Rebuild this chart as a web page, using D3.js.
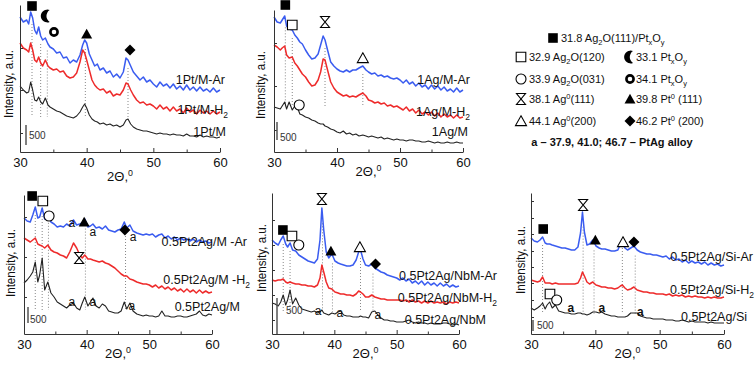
<!DOCTYPE html>
<html lang="en">
<head>
<meta charset="utf-8">
<title>XRD patterns of Pt, Ag and PtAg samples</title>
<script src="https://d3js.org/d3.v7.min.js"></script>
<style>
html, body { margin: 0; padding: 0; background: #fff; }
svg { display: block; font-family: "Liberation Sans", Arial, sans-serif; }
</style>
</head>
<body>
<script>
// 2theta grids (deg) and intensities (a.u., height above each panel's axis)
const tt1 = [30,30.5,31,31.3,31.6,31.9,32.2,32.5,32.8,33.1, 33.4,33.8,34.2,34.5,35,35.5,36,36.5,37,37.5, 38,38.5,39,39.4,39.7,40,40.4,40.8,41.2,41.6, 42,42.5,43,43.5,44,44.5,45,45.5,45.9,46.2, 46.6,47,47.5,48,48.5,49,49.5,50, 50.5,51,51.5,52,52.5,53,53.5,54,54.5,55,55.5,56,56.5,57,57.5,58,58.5,59,59.5,60];
const pt_Ar = [135,130,132,128,140,134,122,118,125,116, 112,114,108,105,103,99,100,94,95,89, 92,90,97,107,112,109,98,92,86,88, 82,84,79,81,75,78,74,80,94,92, 86,80,76,72,75,70,72,68, 65,70,66,68,64,68,63,66,62,67,62,65,61,65,61,63,60,64,60,62];
const pt_H2 = [109,104,102,100,109,102,92,90,95,89, 86,92,86,84,82,83,80,81,76,74, 75,79,90,102,99,92,82,72,67,64, 62,63,59,61,56,58,57,62,69,68, 62,57,52,49,50,47,48,46, 43,47,43,45,41,45,41,43,39,44,40,42,38,42,39,41,38,41,38,40];
const pt_M = [66,62,59,60,70,62,52,51,55,50, 48,54,47,45,43,41,40,38,36,35, 34,36,40,45,48,44,37,33,31,30, 28,29,27,28,26,27,25,27,32,33, 28,25,23,22,21,21,20,19, 18,19,18,18,17,18,17,17,16,18,16,16,15,17,15,16,15,15,14,15];

const tt2 = [30,30.5,31,31.3,31.7,32,32.4,32.9,33.3,33.7, 34.1,34.5,35,35.5,36,36.5,37,37.4,37.8,38.1, 38.5,39,39.5,40,40.5,41,41.5,42,42.5,43, 43.5,44.1,44.6,45,45.5,46,46.5,47,47.5,48, 48.5,49,49.5,50, 50.5,51,51.5,52,52.5,53,53.5,54,54.5,55,55.5,56,56.5,57,57.5,58,58.5,59,59.5,60];
const ag_Ar = [135,130,129,132,136,126,123,122,117,114, 110,108,102,97,93,94,98,107,116,112, 102,90,86,83,81,80,82,80,82,82, 84,86,82,80,78,79,76,77,75,76, 74,73,74,72, 69,72,68,70,66,69,65,67,63,67,63,66,62,65,61,63,60,64,60,62];
const ag_H2 = [107,105,102,104,106,97,94,95,89,86, 82,78,75,70,66,67,72,80,93,92, 82,70,64,60,58,56,57,55,56,55, 57,59,56,52,51,49,50,48,49,46, 47,45,46,44, 42,45,41,43,39,42,38,40,37,40,36,39,35,38,35,37,34,37,34,35];
const ag_M = [45,44,43,46,50,43,50,42,46,45, 38,37,35,34,32,31,29,28,28,26, 25,23,22,20,19,21,18,19,17,18, 16,17,16,15,16,15,14,15,13,14, 13,12,13,12, 12,11,12,12,11,11,10,10,11,10,9,10,9,9,10,9,9,10,9,9];

const tt3 = [30,30.5,31,31.4,31.8,32.2,32.5,32.9,33.3,33.8, 34.3,34.8,35.3,35.8,36.3,36.8,37.3,37.9,38.4,38.9, 39.3,39.7,40.2,40.6,41,41.5,42,42.5,43,43.5, 44,44.5,45,45.5,46,46.4,46.9,47.4,48,48.5, 49,49.5,50, 50.5,51,51.5,52,52.5,53,53.5,54,54.5,55,55.5,56,56.5,57,57.5,58,58.5,59,59.5,60];
const pa_Ar = [116,113,112,119,127,116,117,126,115,121, 112,110,107,108,107,110,108,114,109,110, 111,115,107,108,110,106,107,105,108,104, 103,102,104,105,112,106,109,103,101,100, 99,100,99, 100,97,99,100,96,98,95,97,94,96,94,95,93,95,92,94,92,93,91,92];
const pa_H2 = [96,94,92,94,96,90,89,88,86,89, 84,82,81,79,78,76,82,91,86,79, 76,79,75,75,74,73,72,73,71,70, 68,66,63,60,58,58,55,54,52,51, 50,50,49, 47,49,46,48,45,47,44,46,43,45,42,45,42,44,41,44,41,43,41,42];
const pa_M = [51,54,58,62,72,52,59,76,44,52, 41,37,32,30,28,26,29,31,26,24, 31,37,28,32,36,28,26,30,28,23, 22,21,21,23,32,25,31,23,20,19, 18,19,18, 18,17,18,23,18,18,17,17,18,18,17,17,18,19,20,23,19,18,20,19];

// NbM and Si samples share one grid
const tt4 = [30,30.5,31,31.4,31.8,32.2,32.5,32.9,33.3,33.8, 34.3,34.8,35.3,35.8,36.3,36.8,37.3, 37.7,38.0,38.3,38.7,39.1,39.6, 40.1,40.6,41,41.5,42,42.5,43,43.5, 43.9,44.2,44.6,45,45.5,46,46.5,47,47.5,48,48.5,49,49.5,50, 50.5,51,51.5,52,52.5,53,53.5,54,54.5,55,55.5,56,56.5,57,57.5,58,58.5,59,59.5,60];
const nb_Ar = [94,91,89,94,98,90,87,91,84,83, 79,77,75,73,72,71,75, 94,126,104,82,76,80, 73,71,70,69,68,68,69,74, 82,84,75,69,68,70,66,64,62,61,59,58,57,56, 54,56,53,55,51,53,50,53,49,52,49,51,48,51,48,50,47,49,47,48];
const nb_H2 = [54,53,54,54,55,52,51,52,51,50, 50,49,49,48,48,47,49, 56,69,62,52,46,45, 42,41,40,40,39,39,38,40, 43,42,40,37,37,39,37,36,35,35,34,34,34,34, 34,33,34,32,34,32,33,31,33,31,33,31,32,31,32,30,32,31,32,31];
const nb_M = [31,30,28,32,39,29,34,44,30,36, 29,25,24,23,22,23,21, 22,24,21,20,19,21, 20,22,23,19,18,18,17,17, 17,18,17,17,16,22,23,19,16,14,14,13,13,12, 12,12,13,14,12,11,12,11,11,10,11,10,10,10,11,11,10,9,10,9];
const si_Ar = [96,93,92,94,97,91,90,90,89,88, 87,86,86,85,84,84,87, 101,122,102,89,90,94, 88,86,85,85,84,83,83,84, 90,94,86,84,86,88,84,82,81,80,80,79,79,78, 77,78,75,77,74,75,72,74,71,73,71,72,70,72,69,71,69,70,68,69];
const si_H2 = [54,53,52,53,57,51,51,51,50,51, 50,50,50,50,50,50,51, 56,62,58,52,50,52, 49,48,47,47,46,46,45,46, 48,49,46,44,45,47,44,43,42,42,41,41,40,40, 40,39,40,38,39,38,39,37,38,37,38,37,37,36,37,36,37,36,36,37];
const si_M = [26,24,26,28,31,25,29,32,26,29, 23,22,21,21,20,20,21, 21,20,20,19,20,22, 22,21,22,20,19,18,18,17, 17,17,17,18,21,21,21,18,17,16,16,15,15,15, 15,14,14,14,13,13,14,13,12,13,12,12,12,12,11,12,11,11,11,11];

const names1 = ["1Pt/M-Ar", "1Pt/M-H_2", "1Pt/M"];
const names2 = ["1Ag/M-Ar", "1Ag/M-H_2", "1Ag/M"];
const names3 = ["0.5Pt2Ag/M -Ar", "0.5Pt2Ag/M -H_2", "0.5Pt2Ag/M"];
const names4 = ["0.5Pt2Ag/NbM-Ar", "0.5Pt2Ag/NbM-H_2", "0.5Pt2Ag/NbM"];
const names5 = ["0.5Pt2Ag/Si-Ar", "0.5Pt2Ag/Si-H_2", "0.5Pt2Ag/Si"];

// peak markers: [symbol, 2theta, height]
const mk1 = [["sq",31.8,146],["moon",34.0,136],["ring",35.1,120],["tri",40.0,118],["dia",46.5,102]];
const mk2 = [["sq",31.8,147],["osq",32.9,127],["hg",38.1,130],["otri",44.1,94],["circ",34.0,47]];
const mk3 = [["sq",31.3,138],["osq",33.0,133],["circ",34.0,118],["a",37.65,111],["tri",39.6,112],["a",41.0,102],["dia",46.1,104],["a",47.4,97],["hg",38.8,76],["a",37.65,32],["a",41.0,32],["a",47.2,28]];
const mk4 = [["sq",31.75,104],["osq",33.2,98],["circ",34.3,89],["hg",38.0,135],["tri",39.45,83],["otri",44.1,87],["dia",46.6,70],["a",37.4,23],["a",40.9,21],["a",47.0,19]];
const mk5 = [["sq",31.9,105],["hg",38.1,129],["tri",40.0,94],["otri",44.3,92],["dia",46.0,92],["osq",32.95,40],["circ",34.0,34],["a",36.2,26],["a",41.0,26],["a",47.0,22]];

// dotted reference positions (2theta)
const ref1 = [31.8, 33.1, 34.1, 39.8, 46.2];
const ref2 = [31.8, 32.9, 38.1, 44.1];
const ref3 = [31.8, 32.9, 33.9, 39.8, 46.2];
const ref4 = [31.8, 32.9, 38.1, 39.7, 44.2, 46.2];
const ref5 = [31.8, 38.1, 39.8, 44.2, 46.2];

const yt1 = [19, 62, 104], yt2 = [22, 66, 109], yt3 = [37, 77, 117];
const yt4 = [14, 39, 64, 89, 114], yt5 = [17, 34, 51, 67, 83, 100, 116, 133];
const xMajor = [30, 40, 50, 60], xMinor = [35, 45, 55];

const legendLeft = [["osq","32.9 Ag_2O(120)"],["circ","33.9 Ag_2O(031)"],["hg","38.1 Ag^0(111)"],["otri","44.1 Ag^0(200)"]];
const legendRight = [["moon","33.1 Pt_xO_y"],["ring","34.1 Pt_xO_y"],["tri","39.8 Pt^0 (111)"],["dia","46.2 Pt^0 (200)"]];
const legendTop = ["sq", "31.8 Ag_2O(111)/Pt_xO_y"];
const legendNote = "a \u2013 37.9, 41.0; 46.7 \u2013 PtAg alloy";

const colors = ["#3a5cf0", "#ee2b2b", "#222"];

const panels = [
  {x0:20, x1:220, base:152, top:5, tt:tt1, ser:[pt_Ar,pt_H2,pt_M], names:names1, yt:yt1, mk:mk1, ref:ref1, refEnd:35,
   bar:[26,7,20], barTxt:[29,139], ytl:[13,84], xtlY:181, labs:[[225,84],[228,114],[226,136]]},
  {x0:274, x1:463, base:152, top:10, tt:tt2, ser:[ag_Ar,ag_H2,ag_M], names:names2, yt:yt2, mk:mk2, ref:ref2, refEnd:45,
   bar:[277,12,18], barTxt:[280,141], ytl:[265,85], xtlY:176, labs:[[470,84],[470,116],[468,136]]},
  {x0:24, x1:212, base:334, top:195, tt:tt3, ser:[pa_Ar,pa_H2,pa_M], names:names3, yt:yt3, mk:mk3, ref:ref3, refEnd:24,
   bar:[28,11,16], barTxt:[30,323], ytl:[15,263], xtlY:358, labs:[[247,246],[250,284],[240,311]]},
  {x0:272, x1:459, base:334, top:193, tt:tt4, ser:[nb_Ar,nb_H2,nb_M], names:names4, yt:yt4, mk:mk4, ref:ref4, refEnd:22,
   bar:[277,0,36], barTxt:[286,314], ytl:[266,258], xtlY:358, labs:[[497,280],[497,302],[486,324]]},
  {x0:531, x1:724, base:334, top:193, tt:tt4, ser:[si_Ar,si_H2,si_M], names:names5, yt:yt5, mk:mk5, ref:ref5, refEnd:20,
   bar:[533,3,11], barTxt:[537,329], ytl:[525,260], xtlY:358, labs:[[753,261],[754,294],[747,321]], boldA:true}
];

panels.forEach((p, i) => p.ser.forEach(s => {
  if (s.length !== p.tt.length) console.warn("length mismatch in panel", i + 1, s.length, p.tt.length);
}));

const svg = d3.select("body").append("svg")
  .attr("width", 756)
  .attr("height", 366);

// text with _x subscripts and ^x superscripts
function rich(sel, str, size) {
  const parts = [];
  for (let i = 0; i < str.length; i++) {
    const ch = str[i];
    if ((ch === "_" || ch === "^") && i + 1 < str.length) {
      parts.push({t: str[i + 1], m: ch === "_" ? 1 : -1});
      i++;
    } else if (parts.length && parts[parts.length - 1].m === 0) {
      parts[parts.length - 1].t += ch;
    } else {
      parts.push({t: ch, m: 0});
    }
  }
  let cur = 0;
  parts.forEach(p => {
    const shift = p.m === 1 ? size * 0.3 : p.m === -1 ? -size * 0.4 : 0;
    sel.append("tspan")
      .attr("dy", shift - cur)
      .attr("font-size", p.m ? size * 0.68 : size)
      .text(p.t);
    cur = shift;
  });
  return sel;
}

const symPath = {
  sq: "M-4.8,-4.8h9.6v9.6h-9.6Z",
  osq: "M-4.8,-4.8h9.6v9.6h-9.6Z",
  circ: "M5,0A5,5 0 1 1 -5,0A5,5 0 1 1 5,0Z",
  ring: "M3.6,0A3.6,3.6 0 1 1 -3.6,0A3.6,3.6 0 1 1 3.6,0Z",
  moon: "M3,-5.9A6.4,6.4 0 1 0 3,5.9A7,7 0 0 1 3,-5.9Z",
  hg: "M-4.5,-5.5H4.5L-4.5,5.5H4.5Z",
  tri: "M0,-5.2L5.5,4.6H-5.5Z",
  otri: "M0,-5.2L5.5,4.6H-5.5Z",
  dia: "M0,-5.5L5.5,0L0,5.5L-5.5,0Z"
};

function symbol(g, type, x, y) {
  const p = g.append("path")
    .attr("d", symPath[type])
    .attr("transform", `translate(${x},${y})`);
  if (type === "sq" || type === "tri" || type === "dia" || type === "moon") {
    p.attr("fill", "#000");
  } else if (type === "ring") {
    p.attr("fill", "#fff").attr("stroke", "#000").attr("stroke-width", 2.6);
  } else {
    p.attr("fill", "#fff").attr("stroke", "#000").attr("stroke-width", 1.1);
  }
}

function valAt(tt, v, t) {
  const i = d3.bisectLeft(tt, t);
  if (i <= 0) return v[0];
  if (i >= tt.length) return v[v.length - 1];
  const a = tt[i - 1], b = tt[i];
  return v[i - 1] + (v[i] - v[i - 1]) * (t - a) / (b - a);
}

panels.forEach(p => {
  const g = svg.append("g");
  const x = d3.scaleLinear().domain([30, 60]).range([p.x0, p.x1]);
  const y = d3.scaleLinear().domain([0, p.base - p.top]).range([p.base, p.top]);

  // dotted reference lines
  p.ref.forEach(t => {
    g.append("line")
      .attr("x1", x(t)).attr("x2", x(t))
      .attr("y1", y(valAt(p.tt, p.ser[0], t) - 8))
      .attr("y2", y(p.refEnd))
      .attr("stroke", "#888")
      .attr("stroke-width", 1)
      .attr("stroke-dasharray", "1,2");
  });

  // patterns
  const line = d3.line()
    .x((d, i) => x(p.tt[i]))
    .y(d => y(d));
  p.ser.forEach((s, k) => {
    g.append("path")
      .datum(s)
      .attr("d", line)
      .attr("fill", "none")
      .attr("stroke", colors[k])
      .attr("stroke-width", k === 2 ? 1.1 : 1.5)
      .attr("stroke-linejoin", "round");
  });

  // axes
  const xAxis = d3.axisBottom(x).tickValues(xMajor).tickSize(-4).tickPadding(6).tickSizeOuter(0);
  const ax = g.append("g").attr("transform", `translate(0,${p.base})`).call(xAxis);
  ax.selectAll("text").attr("font-size", 13).attr("font-family", null).attr("fill", "#111");
  ax.selectAll("path, line").attr("stroke", "#333");
  const axm = g.append("g").attr("transform", `translate(0,${p.base})`)
    .call(d3.axisBottom(x).tickValues(xMinor).tickSize(-2.5).tickFormat("").tickSizeOuter(0));
  axm.select(".domain").remove();
  axm.selectAll("line").attr("stroke", "#333");

  const ay = g.append("g").attr("transform", `translate(${p.x0},0)`)
    .call(d3.axisLeft(y).tickValues(p.yt).tickSize(-3).tickFormat("").tickSizeOuter(0));
  ay.selectAll("path, line").attr("stroke", "#333");

  // axis titles
  g.append("text")
    .attr("transform", `translate(${p.ytl[0]},${p.ytl[1]}) rotate(-90)`)
    .attr("text-anchor", "middle")
    .attr("font-size", 13)
    .attr("textLength", 68)
    .attr("lengthAdjust", "spacingAndGlyphs")
    .attr("fill", "#111")
    .text("Intensity, a.u.");
  rich(g.append("text")
    .attr("x", (p.x0 + p.x1) / 2)
    .attr("y", p.xtlY)
    .attr("text-anchor", "middle")
    .attr("fill", "#111"), "2\u0398,^0", 13);

  // scale bar
  g.append("line")
    .attr("x1", p.bar[0]).attr("x2", p.bar[0])
    .attr("y1", y(p.bar[1])).attr("y2", y(p.bar[1] + p.bar[2]))
    .attr("stroke", "#555").attr("stroke-width", 1.5);
  g.append("text")
    .attr("x", p.barTxt[0]).attr("y", p.barTxt[1])
    .attr("font-size", 10).attr("fill", "#333")
    .text("500");

  // sample labels
  p.names.forEach((n, k) => {
    rich(g.append("text")
      .attr("x", p.labs[k][0]).attr("y", p.labs[k][1])
      .attr("text-anchor", "end")
      .attr("fill", "#111"), n, 12.5);
  });

  // peak markers
  p.mk.forEach(m => {
    if (m[0] === "a") {
      g.append("text")
        .attr("x", x(m[1])).attr("y", y(m[2]))
        .attr("dy", "0.35em")
        .attr("text-anchor", "middle")
        .attr("font-size", 12)
        .attr("font-weight", p.boldA ? "bold" : "normal")
        .attr("fill", "#111")
        .text("a");
    } else {
      symbol(g, m[0], x(m[1]), y(m[2]));
    }
  });
});

// legend
const lg = svg.append("g");
symbol(lg, legendTop[0], 553, 38);
rich(lg.append("text").attr("x", 561).attr("y", 42).attr("fill", "#111"), legendTop[1], 11);
const rowY = [57, 79, 99, 121];
legendLeft.forEach((d, i) => {
  symbol(lg, d[0], 521, rowY[i]);
  rich(lg.append("text").attr("x", 529).attr("y", rowY[i] + 4).attr("fill", "#111"), d[1], 11);
});
legendRight.forEach((d, i) => {
  symbol(lg, d[0], 630, rowY[i]);
  rich(lg.append("text").attr("x", 636).attr("y", rowY[i] + 4).attr("fill", "#111"), d[1], 11);
});
lg.append("text")
  .attr("x", 612).attr("y", 146)
  .attr("text-anchor", "middle")
  .attr("font-size", 11)
  .attr("font-weight", "bold")
  .attr("fill", "#111")
  .text(legendNote);
</script>
</body>
</html>
